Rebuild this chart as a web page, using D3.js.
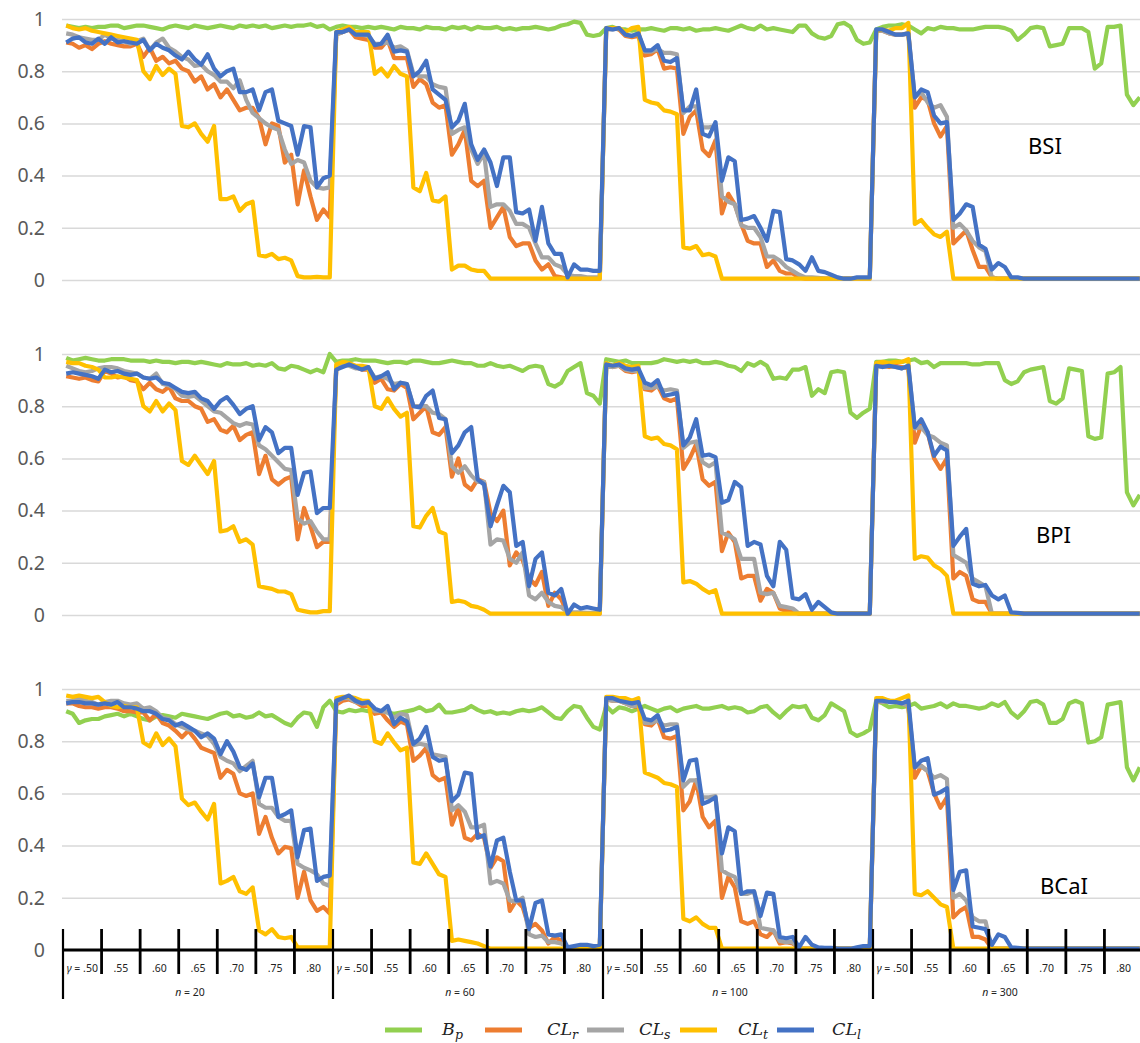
<!DOCTYPE html>
<html>
<head>
<meta charset="utf-8">
<script src="https://cdn.jsdelivr.net/npm/d3@7"></script>
<style>
  body { margin: 0; background: #fff; }
  svg { display: block; }
</style>
</head>
<body>
<svg id="chart"></svg>
<script>
// x categories: 4 sample sizes x 7 gamma levels, 6 readings per gamma
const sampleSizes = ["20", "60", "100", "300"];
const gammaLabels = [".50", ".55", ".60", ".65", ".70", ".75", ".80"];
const perGamma = 6;
const yTicks = [0, 0.2, 0.4, 0.6, 0.8, 1];
const panelNames = ["BSI", "BPI", "BCaI"];
const seriesBase = ["B", "CL", "CL", "CL", "CL"];
const seriesSub = ["p", "r", "s", "t", "l"];
const seriesColors = ["#92d050", "#ed7d31", "#a5a5a5", "#ffc000", "#4472c4"];

// ---- BSI ----
const bsiBp = [
  .975,.97,.965,.97,.965,.97,  .97,.975,.975,.965,.97,.975,  .975,.97,.965,.96,.97,.975,  .97,.965,.975,.97,.965,.97,  .975,.97,.965,.975,.97,.975,  .97,.975,.965,.97,.975,.97,  .975,.975,.98,.97,.975,.96,
  .97,.975,.97,.97,.965,.97,  .965,.97,.965,.96,.97,.965,  .965,.96,.97,.965,.965,.96,  .97,.965,.97,.96,.97,.965,  .965,.97,.96,.965,.96,.965,  .965,.97,.965,.96,.965,.975,  .98,.99,.985,.94,.935,.94,
  .965,.97,.96,.96,.955,.96,  .96,.965,.96,.955,.965,.965,  .96,.965,.955,.96,.96,.965,  .96,.955,.965,.975,.965,.96,  .975,.96,.965,.96,.955,.95,  .975,.975,.945,.93,.925,.935,  .98,.985,.97,.92,.905,.91,
  .96,.97,.975,.975,.98,.975,  .96,.945,.965,.96,.97,.965,  .965,.96,.96,.96,.965,.97,  .97,.97,.965,.955,.92,.94,  .965,.97,.965,.895,.90,.905,  .965,.965,.965,.95,.81,.83,  .97,.97,.975,.71,.67,.70
];
const bsiCLr = [
  .91,.905,.89,.90,.885,.905,  .915,.905,.90,.895,.895,.905,  .855,.89,.84,.855,.83,.84,  .81,.80,.76,.78,.73,.75,  .70,.73,.69,.65,.66,.66,  .62,.52,.60,.59,.45,.48,  .29,.42,.32,.23,.27,.24,
  .94,.95,.96,.93,.925,.92,  .89,.89,.92,.85,.85,.85,  .74,.77,.75,.68,.66,.67,  .48,.52,.575,.38,.36,.38,  .20,.24,.28,.165,.13,.14,  .14,.075,.04,.06,.015,.01,  .005,.005,.005,.005,.005,.005,
  .96,.965,.96,.935,.93,.935,  .86,.865,.885,.81,.815,.81,  .56,.625,.65,.50,.475,.535,  .255,.33,.29,.215,.15,.14,  .14,.05,.075,.035,.025,.025,  .01,.005,.005,.005,.005,.005,  .005,.005,.005,.005,.005,.005,
  .955,.955,.945,.94,.94,.945,  .66,.70,.69,.60,.55,.59,  .14,.165,.19,.115,.05,.05,  .01,.005,.005,.005,.005,.005,  .005,.005,.005,.005,.005,.005,  .005,.005,.005,.005,.005,.005,  .005,.005,.005,.005,.005,.005
];
const bsiCLs = [
  .945,.94,.93,.925,.92,.92,  .94,.925,.92,.915,.905,.915,  .925,.88,.91,.925,.89,.875,  .855,.845,.82,.825,.80,.785,  .76,.76,.735,.765,.69,.64,  .62,.60,.585,.575,.50,.445,  .46,.45,.38,.355,.35,.355,
  .94,.95,.96,.94,.94,.935,  .905,.905,.91,.89,.895,.88,  .79,.78,.78,.75,.74,.735,  .56,.575,.585,.50,.445,.485,  .28,.29,.29,.265,.215,.215,  .20,.14,.087,.087,.06,.05,  .02,.015,.015,.01,.01,.01,
  .96,.96,.965,.94,.935,.945,  .875,.875,.885,.87,.87,.865,  .64,.665,.665,.585,.585,.59,  .32,.30,.29,.21,.20,.20,  .165,.09,.09,.075,.05,.035,  .02,.01,.01,.008,.005,.005,  .005,.005,.005,.005,.005,.005,
  .955,.955,.945,.94,.94,.945,  .70,.72,.68,.66,.67,.625,  .20,.215,.19,.15,.125,.11,  .01,.005,.005,.005,.005,.005,  .005,.005,.005,.005,.005,.005,  .005,.005,.005,.005,.005,.005,  .005,.005,.005,.005,.005,.005
];
const bsiCLt = [
  .975,.965,.96,.965,.955,.95,  .945,.94,.935,.93,.925,.92,  .80,.77,.82,.785,.81,.79,  .59,.585,.60,.56,.53,.59,  .31,.31,.32,.265,.29,.30,  .095,.09,.10,.08,.085,.075,  .015,.01,.01,.012,.01,.01,
  .95,.96,.97,.95,.95,.95,  .79,.81,.78,.82,.79,.78,  .355,.34,.41,.305,.30,.32,  .04,.055,.055,.04,.035,.035,  .005,.005,.005,.005,.005,.005,  .005,.005,.005,.005,.005,.005,  .005,.005,.005,.005,.005,.005,
  .965,.965,.965,.95,.965,.97,  .69,.68,.675,.65,.645,.635,  .125,.12,.13,.095,.10,.09,  .005,.005,.005,.005,.005,.005,  .005,.005,.005,.005,.005,.005,  .005,.005,.005,.005,.005,.005,  .005,.005,.005,.005,.005,.005,
  .955,.96,.955,.965,.965,.985,  .215,.23,.20,.175,.165,.185,  .005,.005,.005,.005,.005,.005,  .005,.005,.005,.005,.005,.005,  .005,.005,.005,.005,.005,.005,  .005,.005,.005,.005,.005,.005,  .005,.005,.005,.005,.005,.005
];
const bsiCLl = [
  .91,.925,.93,.91,.905,.925,  .905,.93,.91,.915,.91,.905,  .92,.88,.905,.89,.88,.86,  .845,.875,.845,.825,.865,.81,  .78,.80,.81,.72,.72,.73,  .65,.72,.73,.61,.60,.59,  .48,.59,.585,.355,.39,.40,
  .95,.95,.96,.94,.94,.94,  .90,.905,.94,.875,.88,.875,  .78,.80,.84,.73,.71,.69,  .585,.61,.675,.52,.46,.50,  .45,.36,.47,.47,.26,.255,  .27,.15,.28,.14,.10,.10,  .01,.06,.04,.04,.035,.035,
  .965,.96,.965,.94,.935,.945,  .88,.88,.90,.84,.835,.85,  .65,.65,.73,.56,.55,.605,  .38,.47,.455,.23,.235,.245,  .20,.15,.265,.26,.08,.075,  .06,.035,.087,.035,.03,.02,  .01,.005,.005,.01,.01,.01,
  .96,.96,.95,.94,.94,.945,  .70,.73,.72,.63,.60,.605,  .23,.255,.29,.28,.135,.12,  .04,.065,.05,.01,.01,.005,  .005,.005,.005,.005,.005,.005,  .005,.005,.005,.005,.005,.005,  .005,.005,.005,.005,.005,.005
];

// ---- BPI ----
const bpiBp = [
  .985,.975,.98,.985,.98,.975,  .975,.98,.98,.98,.975,.975,  .975,.97,.975,.97,.97,.965,  .97,.97,.965,.97,.965,.96,  .955,.965,.96,.96,.965,.955,  .96,.955,.965,.945,.94,.955,  .95,.94,.93,.94,.93,1.0,
  .97,.975,.975,.98,.975,.975,  .975,.97,.965,.97,.97,.965,  .975,.975,.97,.965,.965,.97,  .975,.97,.965,.965,.955,.955,  .965,.955,.95,.955,.945,.935,  .95,.955,.95,.885,.875,.89,  .935,.95,.965,.85,.84,.81,
  .98,.975,.97,.975,.965,.965,  .965,.965,.97,.98,.975,.97,  .975,.97,.975,.965,.965,.97,  .965,.955,.95,.935,.965,.955,  .97,.955,.905,.91,.905,.94,  .94,.95,.84,.865,.85,.93,  .935,.93,.775,.755,.775,.79,
  .97,.97,.975,.975,.97,.975,  .98,.965,.97,.95,.965,.965,  .965,.965,.965,.96,.96,.965,  .965,.965,.90,.885,.895,.93,  .94,.945,.95,.82,.81,.83,  .945,.94,.935,.685,.675,.68,  .925,.93,.95,.47,.42,.46
];
const bpiCLr = [
  .915,.91,.905,.91,.90,.895,  .935,.925,.91,.915,.90,.895,  .865,.89,.865,.855,.875,.83,  .82,.82,.80,.79,.74,.75,  .71,.70,.725,.67,.69,.70,  .54,.61,.52,.50,.52,.53,  .29,.41,.34,.26,.28,.28,
  .94,.955,.965,.95,.94,.94,  .89,.905,.865,.86,.885,.87,  .75,.775,.80,.70,.69,.72,  .53,.60,.50,.48,.52,.51,  .39,.36,.40,.19,.24,.21,  .14,.115,.165,.035,.085,.06,  .005,.005,.005,.005,.005,.005,
  .955,.95,.955,.935,.93,.935,  .865,.86,.88,.83,.82,.83,  .56,.60,.655,.52,.495,.51,  .245,.315,.28,.14,.15,.15,  .055,.10,.085,.025,.015,.015,  .005,.005,.005,.005,.005,.005,  .005,.005,.005,.005,.005,.005,
  .955,.955,.95,.955,.95,.945,  .66,.725,.70,.60,.56,.60,  .14,.165,.15,.06,.05,.05,  .005,.005,.005,.005,.005,.005,  .005,.005,.005,.005,.005,.005,  .005,.005,.005,.005,.005,.005,  .005,.005,.005,.005,.005,.005
];
const bpiCLs = [
  .955,.945,.935,.93,.935,.945,  .95,.95,.945,.935,.93,.925,  .91,.905,.925,.885,.88,.865,  .84,.835,.84,.82,.80,.78,  .775,.755,.735,.725,.735,.73,  .65,.635,.61,.585,.56,.555,  .37,.35,.36,.32,.29,.29,
  .95,.96,.955,.945,.945,.945,  .91,.915,.905,.885,.89,.885,  .80,.80,.80,.775,.77,.75,  .57,.545,.57,.535,.51,.51,  .27,.29,.285,.215,.20,.24,  .075,.06,.085,.05,.035,.03,  .01,.01,.01,.008,.008,.008,
  .955,.95,.955,.94,.935,.94,  .87,.87,.875,.86,.865,.86,  .64,.66,.665,.585,.57,.585,  .315,.305,.29,.215,.215,.215,  .085,.08,.085,.035,.03,.025,  .005,.005,.005,.005,.005,.005,  .005,.005,.005,.005,.005,.005,
  .955,.95,.955,.95,.945,.955,  .715,.72,.69,.68,.66,.65,  .23,.215,.20,.14,.125,.11,  .005,.005,.005,.005,.005,.005,  .005,.005,.005,.005,.005,.005,  .005,.005,.005,.005,.005,.005,  .005,.005,.005,.005,.005,.005
];
const bpiCLt = [
  .97,.965,.965,.955,.95,.94,  .91,.91,.915,.91,.905,.90,  .80,.78,.82,.78,.81,.785,  .59,.575,.61,.575,.54,.59,  .32,.325,.34,.28,.29,.27,  .11,.105,.10,.09,.09,.08,  .02,.015,.01,.01,.015,.015,
  .96,.97,.965,.955,.955,.95,  .80,.79,.83,.79,.76,.775,  .34,.335,.38,.41,.32,.31,  .05,.055,.05,.035,.03,.02,  .005,.005,.005,.005,.005,.005,  .005,.005,.005,.005,.005,.005,  .005,.005,.005,.005,.005,.005,
  .965,.955,.965,.955,.95,.955,  .685,.675,.68,.655,.65,.635,  .125,.13,.12,.10,.085,.095,  .005,.005,.005,.005,.005,.005,  .005,.005,.005,.005,.005,.005,  .005,.005,.005,.005,.005,.005,  .005,.005,.005,.005,.005,.005,
  .965,.97,.965,.97,.97,.98,  .215,.225,.22,.19,.175,.15,  .005,.005,.005,.005,.005,.005,  .005,.005,.005,.005,.005,.005,  .005,.005,.005,.005,.005,.005,  .005,.005,.005,.005,.005,.005,  .005,.005,.005,.005,.005,.005
];
const bpiCLl = [
  .925,.93,.925,.92,.915,.905,  .94,.93,.935,.925,.92,.925,  .91,.905,.91,.89,.885,.87,  .855,.85,.855,.83,.82,.79,  .82,.835,.805,.77,.79,.80,  .67,.72,.70,.62,.64,.64,  .46,.545,.55,.39,.41,.41,
  .94,.95,.96,.95,.94,.95,  .905,.915,.93,.865,.89,.885,  .80,.795,.84,.86,.755,.75,  .62,.65,.70,.72,.52,.50,  .34,.42,.495,.47,.265,.28,  .11,.215,.24,.085,.075,.10,  .005,.04,.025,.03,.025,.02,
  .96,.955,.96,.945,.94,.945,  .89,.88,.90,.84,.845,.85,  .65,.68,.75,.61,.615,.605,  .43,.44,.51,.49,.265,.28,  .27,.15,.11,.28,.25,.065,  .06,.08,.02,.05,.03,.01,  .005,.005,.005,.005,.005,.005,
  .955,.95,.955,.95,.945,.955,  .72,.75,.70,.61,.645,.63,  .265,.30,.33,.12,.11,.115,  .075,.06,.075,.01,.008,.005,  .005,.005,.005,.005,.005,.005,  .005,.005,.005,.005,.005,.005,  .005,.005,.005,.005,.005,.005
];

// ---- BCaI ----
const bcaiBp = [
  .915,.905,.87,.88,.885,.885,  .895,.90,.905,.895,.905,.895,  .885,.88,.895,.90,.895,.89,  .905,.90,.895,.89,.885,.895,  .905,.91,.895,.90,.89,.895,  .91,.895,.90,.885,.87,.86,  .89,.91,.905,.855,.93,.955,
  .915,.91,.92,.915,.92,.915,  .92,.915,.91,.905,.91,.915,  .92,.93,.915,.92,.94,.91,  .91,.915,.92,.935,.92,.91,  .915,.905,.91,.905,.915,.92,  .915,.92,.93,.91,.89,.885,  .915,.935,.93,.89,.855,.845,
  .935,.91,.93,.925,.915,.925,  .935,.925,.915,.925,.93,.915,  .925,.93,.935,.925,.925,.93,  .935,.925,.93,.925,.91,.915,  .93,.935,.91,.89,.915,.935,  .93,.935,.89,.88,.90,.945,  .93,.915,.835,.82,.83,.845,
  .955,.945,.93,.935,.93,.935,  .945,.925,.93,.935,.945,.93,  .945,.935,.935,.93,.925,.93,  .945,.935,.95,.91,.89,.915,  .95,.955,.94,.87,.87,.885,  .945,.955,.945,.795,.80,.815,  .94,.945,.95,.70,.65,.70
];
const bcaiCLr = [
  .945,.945,.935,.93,.93,.925,  .93,.93,.925,.915,.915,.91,  .91,.88,.905,.87,.86,.84,  .815,.84,.81,.775,.765,.755,  .66,.69,.675,.60,.59,.60,  .445,.51,.43,.37,.395,.39,  .20,.30,.19,.15,.165,.14,
  .94,.955,.96,.95,.935,.935,  .905,.91,.88,.855,.875,.865,  .725,.745,.775,.67,.65,.66,  .48,.545,.43,.42,.445,.43,  .315,.355,.34,.15,.19,.165,  .085,.10,.075,.025,.05,.035,  .005,.005,.005,.005,.005,.005,
  .96,.955,.955,.945,.935,.93,  .865,.86,.885,.815,.81,.82,  .535,.57,.65,.51,.47,.495,  .20,.28,.24,.11,.10,.11,  .06,.05,.075,.025,.03,.025,  .005,.005,.005,.005,.005,.005,  .005,.005,.005,.005,.005,.005,
  .955,.95,.955,.95,.945,.935,  .66,.705,.685,.60,.545,.585,  .125,.15,.165,.05,.05,.04,  .005,.005,.005,.005,.005,.005,  .005,.005,.005,.005,.005,.005,  .005,.005,.005,.005,.005,.005,  .005,.005,.005,.005,.005,.005
];
const bcaiCLs = [
  .955,.955,.965,.955,.95,.94,  .95,.955,.955,.945,.94,.945,  .925,.93,.915,.89,.885,.865,  .855,.845,.84,.83,.82,.79,  .74,.725,.715,.685,.705,.725,  .56,.545,.545,.51,.495,.495,  .33,.315,.305,.29,.255,.245,
  .95,.965,.965,.95,.945,.945,  .915,.915,.91,.89,.905,.90,  .785,.79,.785,.75,.745,.74,  .535,.555,.53,.47,.47,.48,  .255,.265,.255,.19,.185,.20,  .06,.05,.055,.03,.03,.025,  .01,.008,.008,.008,.005,.005,
  .96,.955,.955,.945,.935,.935,  .87,.87,.88,.86,.865,.865,  .625,.65,.65,.585,.585,.59,  .305,.29,.28,.215,.215,.225,  .085,.08,.075,.035,.03,.03,  .005,.005,.005,.005,.005,.005,  .005,.005,.005,.005,.005,.005,
  .955,.95,.955,.95,.945,.935,  .70,.705,.685,.66,.67,.655,  .20,.215,.19,.125,.11,.11,  .005,.005,.005,.005,.005,.005,  .005,.005,.005,.005,.005,.005,  .005,.005,.005,.005,.005,.005,  .005,.005,.005,.005,.005,.005
];
const bcaiCLt = [
  .975,.97,.975,.97,.965,.97,  .95,.935,.93,.935,.93,.93,  .795,.78,.83,.785,.81,.78,  .58,.555,.565,.53,.50,.56,  .255,.265,.28,.225,.215,.24,  .075,.06,.08,.05,.045,.05,  .01,.01,.01,.01,.01,.01,
  .965,.97,.97,.965,.955,.955,  .80,.79,.83,.795,.765,.775,  .335,.33,.37,.33,.29,.28,  .035,.04,.035,.03,.025,.015,  .005,.005,.005,.005,.005,.005,  .005,.005,.005,.005,.005,.005,  .005,.005,.005,.005,.005,.005,
  .97,.97,.965,.965,.955,.965,  .68,.67,.66,.64,.635,.625,  .12,.11,.125,.10,.085,.085,  .005,.005,.005,.005,.005,.005,  .005,.005,.005,.005,.005,.005,  .005,.005,.005,.005,.005,.005,  .005,.005,.005,.005,.005,.005,
  .965,.965,.955,.955,.965,.975,  .215,.21,.225,.20,.175,.165,  .005,.005,.005,.005,.005,.005,  .005,.005,.005,.005,.005,.005,  .005,.005,.005,.005,.005,.005,  .005,.005,.005,.005,.005,.005,  .005,.005,.005,.005,.005,.005
];
const bcaiCLl = [
  .945,.95,.95,.945,.945,.94,  .945,.94,.95,.93,.93,.925,  .915,.915,.905,.885,.88,.86,  .87,.855,.84,.815,.83,.81,  .75,.80,.76,.70,.69,.715,  .585,.66,.66,.51,.52,.535,  .355,.46,.465,.265,.28,.285,
  .955,.965,.975,.955,.945,.95,  .925,.915,.935,.865,.89,.875,  .79,.81,.855,.74,.725,.73,  .57,.595,.68,.675,.43,.44,  .32,.42,.43,.30,.19,.19,  .08,.18,.19,.06,.055,.06,  .01,.015,.02,.02,.015,.02,
  .965,.965,.955,.95,.945,.95,  .885,.88,.90,.84,.845,.855,  .65,.725,.73,.56,.57,.585,  .37,.47,.455,.215,.225,.225,  .13,.22,.215,.05,.045,.05,  .01,.05,.02,.01,.008,.008,  .005,.005,.005,.01,.015,.015,
  .955,.955,.95,.95,.945,.955,  .70,.725,.735,.595,.605,.62,  .23,.30,.305,.09,.085,.08,  .02,.06,.05,.01,.008,.005,  .005,.005,.005,.005,.005,.005,  .005,.005,.005,.005,.005,.005,  .005,.005,.005,.005,.005,.005
];

const panels = [
  { name: panelNames[0], series: [bsiBp, bsiCLr, bsiCLs, bsiCLt, bsiCLl] },
  { name: panelNames[1], series: [bpiBp, bpiCLr, bpiCLs, bpiCLt, bpiCLl] },
  { name: panelNames[2], series: [bcaiBp, bcaiCLr, bcaiCLs, bcaiCLt, bcaiCLl] }
];

const width = 1140, height = 1043;
const plotLeft = 63, plotRight = 1143;
const panelTop = [19, 354, 689];
const panelH = 261;
const labelPos = [[1028, 154], [1036, 543], [1040, 894]];

const nPoints = sampleSizes.length * gammaLabels.length * perGamma;

const svg = d3.select("#chart")
  .attr("width", width)
  .attr("height", height)
  .style("font-family", "'Noto Sans', 'Liberation Sans', sans-serif");

const x = d3.scaleLinear().domain([0, nPoints]).range([plotLeft, plotRight]);

panels.forEach((p, pi) => {
  const y = d3.scaleLinear().domain([0, 1]).range([panelTop[pi] + panelH, panelTop[pi]]);
  const g = svg.append("g");

  // gridlines + y labels
  const yAxis = d3.axisLeft(y)
    .tickValues(yTicks)
    .tickSize(-(width - plotLeft + 1))
    .tickPadding(17)
    .tickFormat(d => (d === 0 || d === 1) ? String(d) : d3.format(".1f")(d));
  const ga = g.append("g")
    .attr("transform", `translate(${plotLeft - 1},0)`)
    .call(yAxis);
  ga.select(".domain").remove();
  ga.selectAll(".tick line").attr("stroke", "#d9d9d9").attr("stroke-width", 1.5);
  ga.selectAll(".tick text")
    .attr("fill", "#595959")
    .attr("font-size", 19.5)
    .attr("font-family", "'Noto Sans', 'Liberation Sans', sans-serif");

  // series lines
  const line = d3.line()
    .x((d, i) => x(i + 0.5))
    .y(d => y(d));
  p.series.forEach((vals, si) => {
    g.append("path")
      .datum(vals)
      .attr("fill", "none")
      .attr("stroke", seriesColors[si])
      .attr("stroke-width", 4.2)
      .attr("stroke-linejoin", "round")
      .attr("d", line);
  });

  g.append("text")
    .attr("x", labelPos[pi][0])
    .attr("y", labelPos[pi][1])
    .attr("font-size", 22)
    .attr("fill", "#000")
    .text(p.name);
});

// category axis under bottom panel
const axisY = panelTop[2] + panelH;
const ax = svg.append("g");
ax.append("line")
  .attr("x1", plotLeft - 1).attr("x2", width)
  .attr("y1", axisY).attr("y2", axisY)
  .attr("stroke", "#000").attr("stroke-width", 3);

const binW = perGamma;
sampleSizes.forEach((n, gi) => {
  gammaLabels.forEach((gl, k) => {
    const idx = (gi * gammaLabels.length + k) * binW;
    const x0 = x(idx);
    const isGroup = k === 0;
    ax.append("line")
      .attr("x1", x0).attr("x2", x0)
      .attr("y1", axisY - 21)
      .attr("y2", isGroup ? axisY + 49 : axisY + 24)
      .attr("stroke", "#000")
      .attr("stroke-width", isGroup ? 2.2 : 2.8);
    const t = ax.append("text")
      .attr("x", (x0 + x(idx + binW)) / 2)
      .attr("y", axisY + 22)
      .attr("text-anchor", "middle")
      .attr("font-size", 10.5)
      .attr("fill", "#222");
    if (isGroup) {
      t.append("tspan").attr("font-style", "italic").text("γ");
      t.append("tspan").text(" = " + gl);
    } else {
      t.text(gl);
    }
  });
  const gx0 = x(gi * gammaLabels.length * binW);
  const gx1 = x((gi + 1) * gammaLabels.length * binW);
  const nt = ax.append("text")
    .attr("x", (gx0 + gx1) / 2 - 8)
    .attr("y", axisY + 46)
    .attr("text-anchor", "middle")
    .attr("font-size", 10.5)
    .attr("fill", "#222");
  nt.append("tspan").attr("font-style", "italic").text("n");
  nt.append("tspan").text(" = " + n);
});

// legend
const legendLineX = [385, 485, 587, 680, 777];
const legendTextX = [442, 547, 639, 738, 832];
const legY = 1030;
const leg = svg.append("g");
seriesColors.forEach((c, i) => {
  leg.append("line")
    .attr("x1", legendLineX[i]).attr("x2", legendLineX[i] + 37)
    .attr("y1", legY).attr("y2", legY)
    .attr("stroke", c).attr("stroke-width", 5);
  const t = leg.append("text")
    .attr("x", legendTextX[i])
    .attr("y", legY + 5)
    .attr("font-family", "'DejaVu Serif', serif")
    .attr("font-style", "italic")
    .attr("font-size", 17.5)
    .attr("fill", "#222");
  t.append("tspan").text(seriesBase[i]);
  t.append("tspan").attr("font-size", 12.5).attr("dy", 4).text(seriesSub[i]);
});
</script>
</body>
</html>
